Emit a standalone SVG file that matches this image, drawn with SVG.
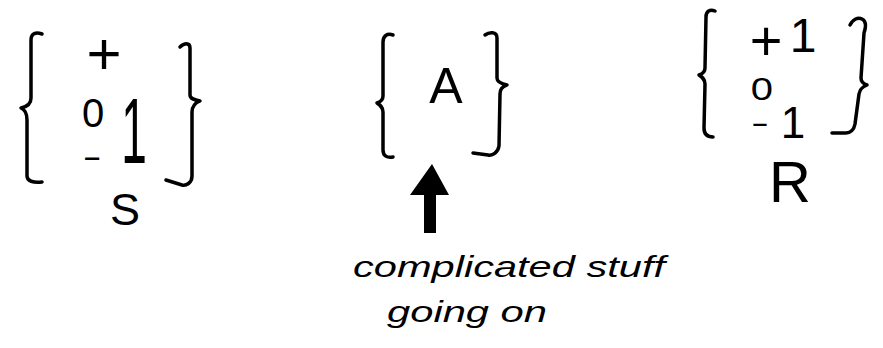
<svg xmlns="http://www.w3.org/2000/svg" width="883" height="348" viewBox="0 0 883 348">
<style>
.br{fill:none;stroke:#000;stroke-width:3.5;stroke-linecap:round;stroke-linejoin:round}
.t{font-family:"Liberation Sans",Arial,sans-serif;fill:#000;text-anchor:middle}
.cap{font-family:"Liberation Sans",Arial,sans-serif;font-size:30px;fill:#000;font-style:italic}
</style>
<rect width="883" height="348" fill="#fff"/>
<g id="S">
<path class="br" d="M42,34 C36,32 31,33 31,40 L31,98 C31,104 26,107 21,108 C26,110 27,114 27,120 L27,176 C27,181 33,183 42,182"/>
<path class="br" d="M180,47 C184,43 190,42 190,48 L190,95 C190,99 195,100 200,101 C195,103 192,106 192,112 L192,176 C192,183 186,186 182,185 L166,180"/>
<text class="t" x="104" y="74" font-size="60">+</text>
<text class="t" x="93" y="127" font-size="40">0</text>
<text class="t" x="134" y="81.5" font-size="46" transform="scale(1,2)">1</text>
<text class="t" x="0" y="0" font-size="34" transform="translate(92,168) scale(1.7,1)">-</text>
<text class="t" x="125" y="225" font-size="45">S</text>
</g>
<g id="A">
<path class="br" d="M393,35 C387,33 383,36 383,42 L383,96 C383,100 380,102 377,103 C380,105 383,107 383,112 L383,150 C383,156 387,158 393,157"/>
<path class="br" d="M485,35 C489,32 497,31 497,38 L497,78 C497,82 502,84 507,85 C502,87 500,89 500,94 L499,146 C498,152 493,156 488,155 L473,153"/>
<text class="t" x="446" y="103" font-size="50">A</text>
</g>
<g id="R">
<path class="br" d="M715,11 C710,9 706,11 706,17 L705,68 C705,72 702,74 699,75 C702,77 705,79 705,84 L704,128 C704,134 707,137 713,137"/>
<path class="br" d="M850,25 C853,19 858,17 862,19 C866,21 866,27 864,33 L861,78 C861,82 864,84 867,85 C862,87 860,89 859,94 L855,124 C854,130 850,133 846,133 L832,133"/>
<text class="t" x="766" y="60" font-size="56">+</text>
<text class="t" x="803" y="52" font-size="48">1</text>
<text class="t" x="0" y="0" font-size="32" transform="translate(762,100) scale(1.25,1)">0</text>
<text class="t" x="0" y="0" font-size="30" transform="translate(760,133) scale(1.8,1)">-</text>
<text class="t" x="793" y="138" font-size="44">1</text>
<text class="t" x="790" y="202" font-size="58">R</text>
</g>
<g id="caption">
<text class="cap" x="353" y="277" textLength="312" lengthAdjust="spacingAndGlyphs">complicated stuff</text>
<text class="cap" x="387" y="322" textLength="160" lengthAdjust="spacingAndGlyphs">going on</text>
</g>
<g id="connectors">
<polygon points="432,164 449,195 436,195 436,233 424,233 424,195 410,195" fill="#000"/>
</g>
</svg>
